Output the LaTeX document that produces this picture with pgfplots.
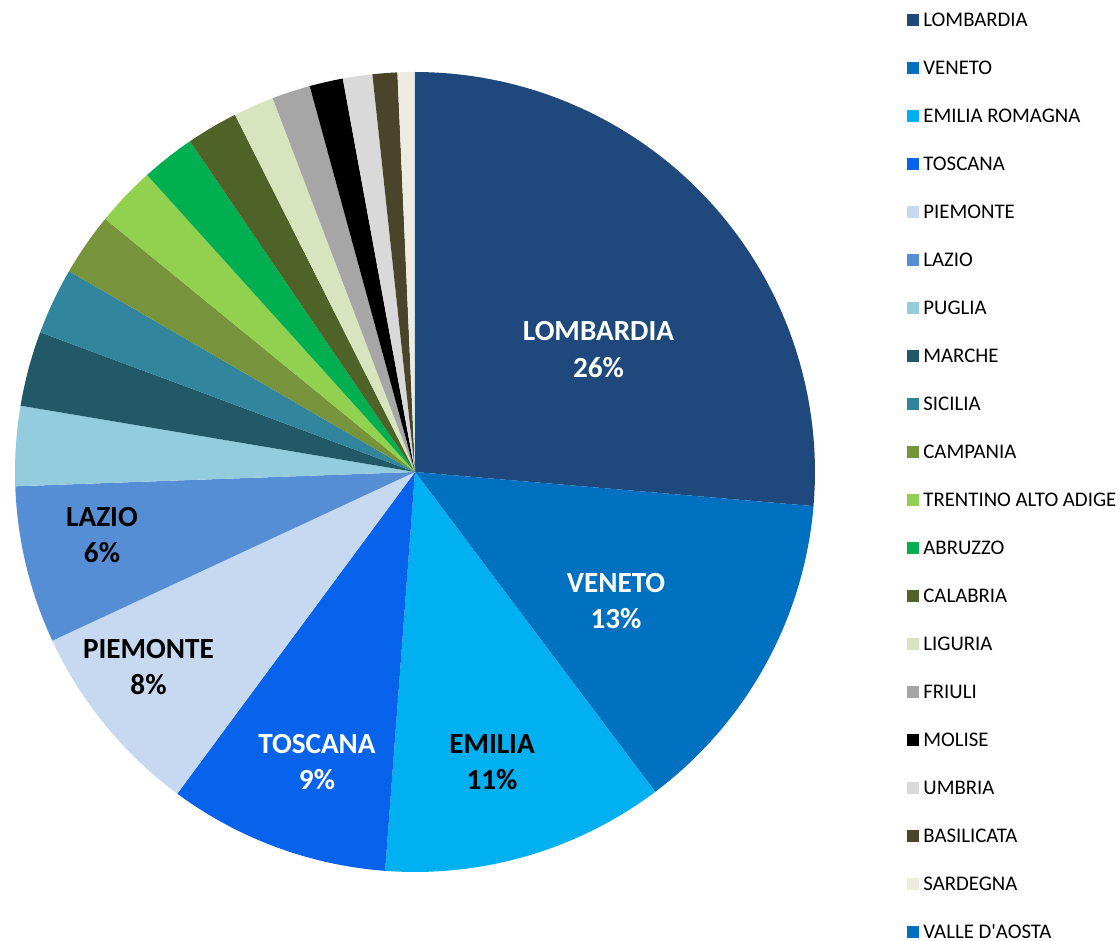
\documentclass[border=0pt]{standalone}
\usepackage{pgfplots}
\pgfplotsset{compat=1.18}
\usepackage{pgfplotstable}
\usepackage{fontspec}
\setmainfont{Carlito}[Ligatures=TeXOff]

\definecolor{cLOM}{HTML}{1F497D}
\definecolor{cVEN}{HTML}{0070C0}
\definecolor{cEMI}{HTML}{00B0F0}
\definecolor{cTOS}{HTML}{0762EC}
\definecolor{cPIE}{HTML}{C6D9F1}
\definecolor{cLAZ}{HTML}{558ED5}
\definecolor{cPUG}{HTML}{93CDDD}
\definecolor{cMAR}{HTML}{215968}
\definecolor{cSIC}{HTML}{31859C}
\definecolor{cCAM}{HTML}{77933C}
\definecolor{cTRE}{HTML}{92D050}
\definecolor{cABR}{HTML}{00B050}
\definecolor{cCAL}{HTML}{4F6228}
\definecolor{cLIG}{HTML}{D7E4BD}
\definecolor{cFRI}{HTML}{A6A6A6}
\definecolor{cMOL}{HTML}{000000}
\definecolor{cUMB}{HTML}{D9D9D9}
\definecolor{cBAS}{HTML}{4A452A}
\definecolor{cSAR}{HTML}{EEECE1}
\definecolor{cVAL}{HTML}{0070C0}

\pgfplotstableread[col sep=comma]{
name,val,col
LOMBARDIA,26.36,cLOM
VENETO,13.39,cVEN
EMILIA ROMAGNA,11.44,cEMI
TOSCANA,8.94,cTOS
PIEMONTE,7.94,cPIE
LAZIO,6.36,cLAZ
PUGLIA,3.22,cPUG
MARCHE,3.03,cMAR
SICILIA,2.69,cSIC
CAMPANIA,2.53,cCAM
TRENTINO ALTO ADIGE,2.42,cTRE
ABRUZZO,2.17,cABR
CALABRIA,2.08,cCAL
LIGURIA,1.64,cLIG
FRIULI,1.55,cFRI
MOLISE,1.35,cMOL
UMBRIA,1.19,cUMB
BASILICATA,1.00,cBAS
SARDEGNA,0.69,cSAR
VALLE D'AOSTA,0.02,cVAL
}\regions

\pgfplotstablegetrowsof{\regions}
\pgfmathtruncatemacro\lastrow{\pgfplotsretval-1}

\pgfplotsset{
  slice/.style={draw=none,
    legend image code/.code={\fill[##1] (0pt,-3pt) rectangle (6pt,3pt); \path (8pt,0pt);}},
}

\begin{document}
\begin{tikzpicture}
\begin{axis}[
  x=0.5pt, y=0.5pt,
  xmin=0, xmax=1120, ymin=0, ymax=941,
  hide axis, clip=false,
  legend style={
    at={(axis cs:907,927.7)}, anchor=north west,
    draw=none, fill=none, inner sep=0pt,
    font=\fontsize{10.4}{12}\selectfont,
    nodes={inner sep=0pt, text height=6.4pt, text depth=0pt},
    row sep=17.6pt,
  },
  legend cell align=left,
]
\def\cum{0}
\pgfplotsforeachungrouped \i in {0,...,\lastrow}{%
  \pgfplotstablegetelem{\i}{val}\of\regions \let\sv\pgfplotsretval
  \pgfplotstablegetelem{\i}{col}\of\regions \let\sc\pgfplotsretval
  \pgfplotstablegetelem{\i}{name}\of\regions \let\sn\pgfplotsretval
  \pgfmathsetmacro\aone{90-3.6*\cum}%
  \pgfmathsetmacro\cum{\cum+\sv}%
  \pgfmathsetmacro\atwo{90-3.6*\cum}%
  \edef\temp{\noexpand\addplot[slice, fill=\sc, domain=\atwo:\aone, samples=60] ({415+400*cos(x)},{469+400*sin(x)}) -- (axis cs:415,469) -- cycle; \noexpand\addlegendentry{\sn}}%
  \temp
}
\tikzset{lbl/.style={align=center, font=\fontsize{14.6}{18.2}\selectfont\bfseries}}
\node[lbl, text=white] at (axis cs:598.5,591.5) {LOMBARDIA\\26\%};
\node[lbl, text=white] at (axis cs:616,340) {VENETO\\13\%};
\node[lbl, text=black] at (axis cs:492,179) {EMILIA\\11\%};
\node[lbl, text=white] at (axis cs:317,179) {TOSCANA\\9\%};
\node[lbl, text=black] at (axis cs:148.5,274) {PIEMONTE\\8\%};
\node[lbl, text=black] at (axis cs:102,406) {LAZIO\\6\%};
\end{axis}
\pgfresetboundingbox
\path (current axis.south west) rectangle (current axis.north east);
\end{tikzpicture}
\end{document}
